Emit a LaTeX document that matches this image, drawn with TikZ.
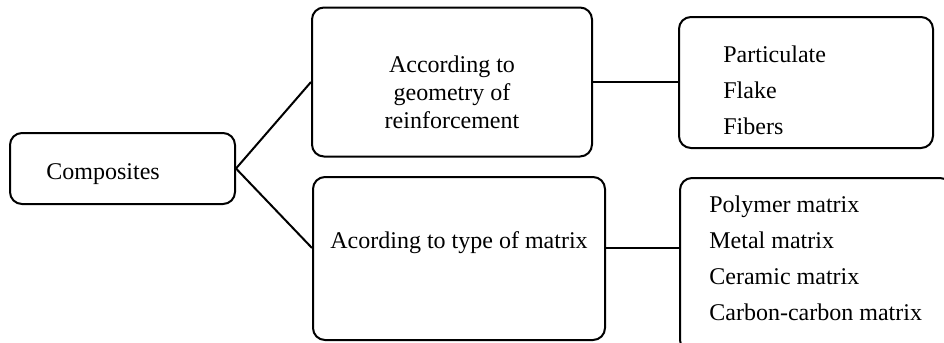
\documentclass[tikz,border=0pt]{standalone}
\usepackage{fontspec}
\setmainfont{Liberation Serif}
\tikzset{
  caja/.style={draw, line width=1pt, rounded corners=6pt, inner sep=0pt},
  texto/.style={inner sep=0pt, font=\fontsize{12}{14.4}\selectfont}
}
\begin{document}
\begin{tikzpicture}[x=0.5pt,y=-0.5pt]
	\useasboundingbox (0,0) rectangle (944,343);

	% Dibujar las cajas
	\node[caja, minimum width=112.5pt, minimum height=35.5pt] (comp) at (122.5,168.5) {};
	\node[caja, minimum width=140pt, minimum height=74.5pt] (geo) at (452,82) {};
	\node[caja, minimum width=146pt, minimum height=81.5pt] (mat) at (459,258.5) {};
	\node[caja, minimum width=127pt, minimum height=65.5pt] (forms) at (806,82.5) {};
	\node[caja, minimum width=136pt, minimum height=87pt] (mtypes) at (816,265) {};

	% Dibujar las uniones
	\coordinate (matin) at ([yshift=5.25pt]mat.west);
	\coordinate (matout) at ([yshift=5.25pt]mat.east);
	\coordinate (mtypesin) at (mtypes.west |- matout);
	\coordinate (formsin) at (forms.west |- geo.east);
	\draw[line width=1pt] (comp.east) -- (geo.west);
	\draw[line width=1pt] (comp.east) -- (matin);
	\draw[line width=1pt] (geo.east) -- (formsin);
	\draw[line width=1pt] (matout) -- (mtypesin);

	% Etiquetar las cajas
	\node[texto, anchor=base west] (comptxt) at (46,179) {Composites};
	\node[texto, anchor=base west] (mattxt) at (330,248) {Acording to type of matrix};
	\foreach \y/\txt [count=\i] in {
	    72/According to,
	    100/geometry of,
	    128/reinforcement
	} {
	    \node[texto, anchor=base] (geo\i) at (452,\y) {\txt};
	}
	\foreach \y/\txt [count=\i] in {
	    62/Particulate,
	    98/Flake,
	    134/Fibers
	} {
	    \node[texto, anchor=base west] (forms\i) at (723,\y) {\txt};
	}
	\foreach \y/\txt [count=\i] in {
	    212/Polymer matrix,
	    248/Metal matrix,
	    284/Ceramic matrix,
	    320/Carbon-carbon matrix
	} {
	    \node[texto, anchor=base west] (mtypes\i) at (709,\y) {\txt};
	}
    \end{tikzpicture}
\end{document}
